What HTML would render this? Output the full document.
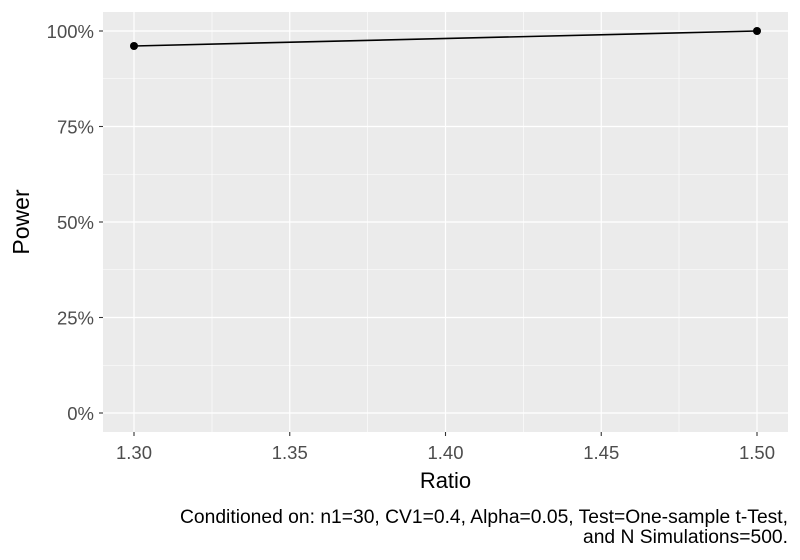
<!DOCTYPE html>
<html><head><style>body{margin:0;background:#fff}svg{display:block}</style></head><body>
<svg width="800" height="560" xmlns="http://www.w3.org/2000/svg" font-family="Liberation Sans, sans-serif">
<rect x="103" y="12" width="685" height="420" fill="#ebebeb"/>
<g stroke="#fff" stroke-width="0.6">
<line x1="103" x2="788" y1="78.75" y2="78.75"/><line x1="103" x2="788" y1="174.25" y2="174.25"/>
<line x1="103" x2="788" y1="269.75" y2="269.75"/><line x1="103" x2="788" y1="365.25" y2="365.25"/>
<line y1="12" y2="432" x1="212" x2="212"/><line y1="12" y2="432" x1="367.6" x2="367.6"/>
<line y1="12" y2="432" x1="523.4" x2="523.4"/><line y1="12" y2="432" x1="679" x2="679"/>
</g>
<g stroke="#fff" stroke-width="1.2">
<line x1="103" x2="788" y1="31" y2="31"/><line x1="103" x2="788" y1="126.5" y2="126.5"/>
<line x1="103" x2="788" y1="222" y2="222"/><line x1="103" x2="788" y1="317.5" y2="317.5"/>
<line x1="103" x2="788" y1="413" y2="413"/>
<line y1="12" y2="432" x1="134" x2="134"/><line y1="12" y2="432" x1="289.75" x2="289.75"/>
<line y1="12" y2="432" x1="445.5" x2="445.5"/><line y1="12" y2="432" x1="601.25" x2="601.25"/>
<line y1="12" y2="432" x1="757" x2="757"/>
</g>
<line x1="134" y1="46" x2="757" y2="31" stroke="#000" stroke-width="1.6"/>
<circle cx="134" cy="46" r="4" fill="#000"/><circle cx="757" cy="31" r="4" fill="#000"/>
<g stroke="#333" stroke-width="1.1">
<line x1="99" x2="103" y1="31" y2="31"/><line x1="99" x2="103" y1="126.5" y2="126.5"/>
<line x1="99" x2="103" y1="222" y2="222"/><line x1="99" x2="103" y1="317.5" y2="317.5"/>
<line x1="99" x2="103" y1="413" y2="413"/>
<line y1="432" y2="436" x1="134" x2="134"/><line y1="432" y2="436" x1="289.75" x2="289.75"/>
<line y1="432" y2="436" x1="445.5" x2="445.5"/><line y1="432" y2="436" x1="601.25" x2="601.25"/>
<line y1="432" y2="436" x1="757" x2="757"/>
</g>
<g font-size="18.5" fill="#4d4d4d" text-anchor="end">
<text x="94" y="38">100%</text><text x="94" y="133.5">75%</text><text x="94" y="229">50%</text>
<text x="94" y="324.5">25%</text><text x="94" y="420">0%</text>
</g>
<g font-size="18.5" fill="#4d4d4d" text-anchor="middle">
<text x="134" y="459">1.30</text><text x="289.75" y="459">1.35</text><text x="445.5" y="459">1.40</text>
<text x="601.25" y="459">1.45</text><text x="757" y="459">1.50</text>
</g>
<text x="445.5" y="488" font-size="22" text-anchor="middle">Ratio</text>
<text transform="translate(29,222) rotate(-90)" font-size="23" text-anchor="middle">Power</text>
<g font-size="19.3">
<text x="180" y="523" textLength="608" lengthAdjust="spacingAndGlyphs">Conditioned on: n1=30, CV1=0.4, Alpha=0.05, Test=One-sample t-Test,</text>
<text x="583" y="543" textLength="205" lengthAdjust="spacingAndGlyphs">and N Simulations=500.</text>
</g>
</svg>
</body></html>
